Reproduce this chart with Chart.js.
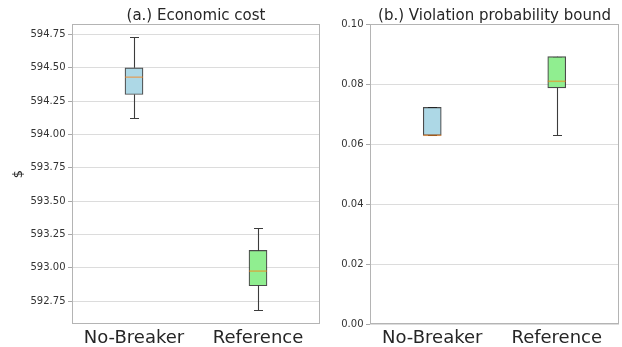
<!DOCTYPE html>
<html>
<head>
<meta charset="utf-8">
<script src="https://cdn.jsdelivr.net/npm/chart.js@4.4.1/dist/chart.umd.min.js"></script>
<style>
  html, body { margin: 0; padding: 0; background: #fff; }
  #wrap { position: relative; width: 622px; height: 347px; overflow: hidden; }
  canvas { position: absolute; top: 0; }
  #costChart { left: 0; }
  #violChart { left: 325px; }
</style>
</head>
<body>
<div id="wrap">
  <canvas id="costChart" width="325" height="347"></canvas>
  <canvas id="violChart" width="297" height="347"></canvas>
</div>
<script>
const categories = ['No-Breaker', 'Reference'];
const boxColors = ['#add8e6', '#90ee90'];

// (a) economic cost: five-number summary per case
const costMin = [594.12, 592.68];
const costQ1 = [594.30, 592.865];
const costMedian = [594.43, 592.975];
const costQ3 = [594.50, 593.13];
const costMax = [594.73, 593.30];
const costTicks = [592.75, 593.00, 593.25, 593.50, 593.75, 594.00, 594.25, 594.50, 594.75];

// (b) violation probability bound: five-number summary per case
const violMin = [0.0629, 0.0629];
const violQ1 = [0.0629, 0.0787];
const violMedian = [0.0629, 0.0809];
const violQ3 = [0.0722, 0.0891];
const violMax = [0.0722, 0.0891];
const violTicks = [0.00, 0.02, 0.04, 0.06, 0.08, 0.10];

const FONT = 'DejaVu Sans';

// Frame, whiskers, caps and medians drawn through the chart's own scales
function boxParts(stats) {
  return {
    id: 'boxParts',
    beforeDatasetsDraw(chart) {
      const { ctx, chartArea: a, scales: { x, y } } = chart;
      ctx.save();
      ctx.strokeStyle = '#b4b4b4';
      ctx.lineWidth = 1;
      ctx.strokeRect(Math.round(a.left) + 0.5, Math.round(a.top) + 0.5,
        Math.round(a.right - a.left) - 1, Math.round(a.bottom - a.top) - 1);

      ctx.strokeStyle = '#3c3c3c';
      ctx.lineWidth = 1.1;
      const half = 4.5;
      stats.min.forEach((lo, i) => {
        const px = Math.round(x.getPixelForValue(i)) + 0.5;
        [[lo, stats.q1[i]], [stats.max[i], stats.q3[i]]].forEach(([end, edge]) => {
          const pe = Math.round(y.getPixelForValue(end)) + 0.5;
          const pb = y.getPixelForValue(edge);
          ctx.beginPath();
          ctx.moveTo(px, pb);
          ctx.lineTo(px, pe);
          ctx.moveTo(px - half, pe);
          ctx.lineTo(px + half, pe);
          ctx.stroke();
        });
      });
      ctx.restore();
    },
    afterDatasetsDraw(chart) {
      const { ctx, scales: { x, y } } = chart;
      const meta = chart.getDatasetMeta(0);
      ctx.save();
      ctx.strokeStyle = 'rgba(255,127,14,0.55)';
      ctx.lineWidth = 1.5;
      stats.median.forEach((m, i) => {
        const bar = meta.data[i];
        const w = bar.width / 2;
        const py = y.getPixelForValue(m);
        const px = x.getPixelForValue(i);
        ctx.beginPath();
        ctx.moveTo(px - w, py);
        ctx.lineTo(px + w, py);
        ctx.stroke();
      });
      ctx.restore();
    }
  };
}

function makeChart(id, cfg) {
  return new Chart(document.getElementById(id), {
    type: 'bar',
    data: {
      labels: categories,
      datasets: [{
        data: categories.map((_, i) => [cfg.q1[i], cfg.q3[i]]),
        backgroundColor: boxColors,
        borderColor: 'rgba(30,30,30,0.8)',
        borderWidth: 1.2,
        borderSkipped: false,
        barThickness: 18
      }]
    },
    options: {
      responsive: false,
      animation: false,
      devicePixelRatio: 1,
      layout: { padding: { left: 0, right: cfg.padRight, top: 0, bottom: 0 } },
      plugins: {
        legend: { display: false },
        tooltip: { enabled: false },
        title: {
          display: true,
          text: cfg.title,
          fullSize: false,
          color: '#262626',
          font: { family: FONT, size: 15, weight: 'normal', lineHeight: 1.2 },
          padding: { top: 7, bottom: -1 }
        }
      },
      scales: {
        x: {
          offset: true,
          grid: { display: false },
          border: { display: false },
          ticks: {
            color: '#262626',
            font: { family: FONT, size: 18 },
            padding: -4.5,
            maxRotation: 0,
            autoSkip: false
          },
          afterFit: s => { s.height = 23; }
        },
        y: {
          min: cfg.yMin,
          max: cfg.yMax,
          grid: { color: '#dcdcdc', tickColor: '#a8a8a8', tickLength: 4 },
          border: { display: false },
          ticks: {
            color: '#333333',
            font: { family: FONT, size: 10 },
            padding: 2.5,
            callback: v => Number(v).toFixed(2)
          },
          afterBuildTicks: s => { s.ticks = cfg.ticks.map(v => ({ value: v })); },
          afterFit: s => { s.width = cfg.axisWidth; },
          title: cfg.yTitle ? {
            display: true,
            text: cfg.yTitle,
            color: '#262626',
            font: { family: FONT, size: 13 },
            padding: { top: 11, bottom: 0 }
          } : { display: false }
        }
      }
    },
    plugins: [boxParts({ min: cfg.min, q1: cfg.q1, median: cfg.median, q3: cfg.q3, max: cfg.max })]
  });
}

makeChart('costChart', {
  title: '(a.) Economic cost',
  yTitle: '$',
  min: costMin, q1: costQ1, median: costMedian, q3: costQ3, max: costMax,
  ticks: costTicks,
  yMin: 592.578, yMax: 594.829,
  axisWidth: 72, padRight: 5
});

makeChart('violChart', {
  title: '(b.) Violation probability bound',
  yTitle: '',
  min: violMin, q1: violQ1, median: violMedian, q3: violQ3, max: violMax,
  ticks: violTicks,
  yMin: 0, yMax: 0.1,
  axisWidth: 45, padRight: 3
});
</script>
</body>
</html>
